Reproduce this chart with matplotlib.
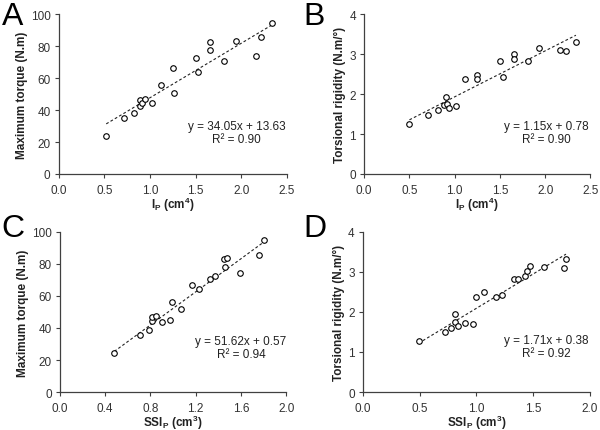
import numpy as np
import matplotlib
matplotlib.use("Agg")
import matplotlib.pyplot as plt
from matplotlib import rcParams

rcParams["font.family"] = "Liberation Sans"
rcParams["mathtext.fontset"] = "custom"
rcParams["mathtext.rm"] = "Liberation Sans:bold"
rcParams["mathtext.default"] = "regular"

# panel A: Ip vs maximum torque
ip_a = [0.52, 0.71, 0.83, 0.89, 0.89, 0.91, 0.94, 1.02, 1.12, 1.25, 1.26, 1.50, 1.53,
        1.66, 1.66, 1.81, 1.94, 2.16, 2.22, 2.34]
torque_a = [24.0, 35.0, 38.1, 46.3, 42.8, 44.5, 46.9, 44.2, 55.6, 66.0, 50.8, 72.3, 63.5,
            82.7, 77.7, 70.4, 83.3, 73.8, 85.6, 94.6]

# panel B: Ip vs torsional rigidity
ip_b = [0.50, 0.70, 0.82, 0.88, 0.90, 0.91, 0.94, 1.01, 1.11, 1.25, 1.25, 1.50, 1.53,
        1.66, 1.66, 1.81, 1.93, 2.16, 2.23, 2.34]
rigid_b = [1.25, 1.47, 1.59, 1.73, 1.92, 1.76, 1.64, 1.70, 2.37, 2.48, 2.37, 2.82, 2.42,
           3.00, 2.87, 2.82, 3.15, 3.11, 3.08, 3.31]

# panel C: SSIp vs maximum torque
ssi_c = [0.48, 0.71, 0.79, 0.81, 0.81, 0.85, 0.90, 0.97, 0.99, 1.07, 1.17, 1.23, 1.33,
         1.37, 1.45, 1.46, 1.48, 1.59, 1.76, 1.80]
torque_c = [24.6, 35.8, 38.9, 44.3, 47.0, 47.6, 43.9, 44.7, 56.3, 51.6, 66.5, 64.0, 70.6,
            72.5, 83.2, 78.1, 83.6, 74.1, 85.7, 94.8]

# panel D: SSIp vs torsional rigidity
ssi_d = [0.49, 0.72, 0.78, 0.81, 0.81, 0.84, 0.90, 0.97, 1.00, 1.07, 1.17, 1.23, 1.33,
         1.37, 1.43, 1.45, 1.47, 1.60, 1.77, 1.79]
rigid_d = [1.27, 1.49, 1.60, 1.94, 1.76, 1.66, 1.73, 1.71, 2.38, 2.50, 2.38, 2.43, 2.82,
           2.82, 2.89, 3.01, 3.15, 3.12, 3.09, 3.32]

fits = {"A": (34.05, 13.63, 0.90), "B": (1.15, 0.78, 0.90),
        "C": (51.62, 0.57, 0.94), "D": (1.71, 0.38, 0.92)}

panels = [
    ("A", ip_a, torque_a, [0.098, 0.594, 0.380, 0.371], (0, 2.5), np.arange(0, 2.51, 0.5),
     (0, 100), np.arange(0, 101, 20), "I$_{P}$ (cm$^{4}$)", "Maximum torque (N.m)",
     0.78, 0.26, (0.003, 0.995)),
    ("B", ip_b, rigid_b, [0.607, 0.594, 0.377, 0.371], (0, 2.5), np.arange(0, 2.51, 0.5),
     (0, 4), np.arange(0, 4.1, 1), "I$_{P}$ (cm$^{4}$)", "Torsional rigidity (N.m/°)",
     0.805, 0.26, (0.505, 0.995)),
    ("C", ssi_c, torque_c, [0.100, 0.088, 0.377, 0.372], (0, 2.0), np.arange(0, 2.01, 0.4),
     (0, 100), np.arange(0, 101, 20), "SSI$_{P}$ (cm$^{3}$)", "Maximum torque (N.m)",
     0.80, 0.28, (0.003, 0.503)),
    ("D", ssi_d, rigid_d, [0.605, 0.088, 0.378, 0.372], (0, 2.0), np.arange(0, 2.01, 0.5),
     (0, 4), np.arange(0, 4.1, 1), "SSI$_{P}$ (cm$^{3}$)", "Torsional rigidity (N.m/°)",
     0.81, 0.283, (0.505, 0.503)),
]

fig = plt.figure(figsize=(6.0, 4.31), dpi=100)

for (name, x, y, rect, xlim, xticks, ylim, yticks, xlabel, ylabel,
     tx, ty, letter_pos) in panels:
    ax = fig.add_axes(rect)
    slope, icpt, r2 = fits[name]
    xs = np.array([min(x), max(x)])
    ax.plot(xs, slope * xs + icpt, color="#222222", linestyle=(0, (2.5, 2)), linewidth=0.8)
    ax.plot(x, y, "o", markersize=4, markerfacecolor="white", markeredgecolor="black",
            markeredgewidth=0.8, linestyle="none")
    ax.set_xlim(*xlim)
    ax.set_ylim(*ylim)
    ax.set_xticks(xticks)
    ax.set_yticks(yticks)
    ax.set_xticklabels([f"{v:.1f}" for v in xticks])
    ax.set_yticklabels([f"{v:g}" for v in yticks])
    for s in ["top", "right"]:
        ax.spines[s].set_visible(False)
    for s in ["left", "bottom"]:
        ax.spines[s].set_color("#404040")
        ax.spines[s].set_linewidth(0.9)
    ax.tick_params(direction="out", length=3, width=0.8, color="#404040",
                   labelsize=8.5, labelcolor="#333333")
    ax.tick_params(axis="x", pad=4)
    ax.tick_params(axis="y", pad=3)
    ax.set_xlabel(xlabel, fontsize=8.5, fontweight="bold", color="#222222", labelpad=-1)
    ax.set_ylabel(ylabel, fontsize=8.5, fontweight="bold", color="#222222", labelpad=2)
    ax.text(tx, ty, f"y = {slope:.2f}x + {icpt:.2f}\nR² = {r2:.2f}", transform=ax.transAxes,
            ha="center", va="center", fontsize=8.5, color="#222222", linespacing=1.1)
    fig.text(letter_pos[0], letter_pos[1], name, fontsize=23,
             ha="left", va="top", color="black")

fig.savefig("out.png", dpi=100)
